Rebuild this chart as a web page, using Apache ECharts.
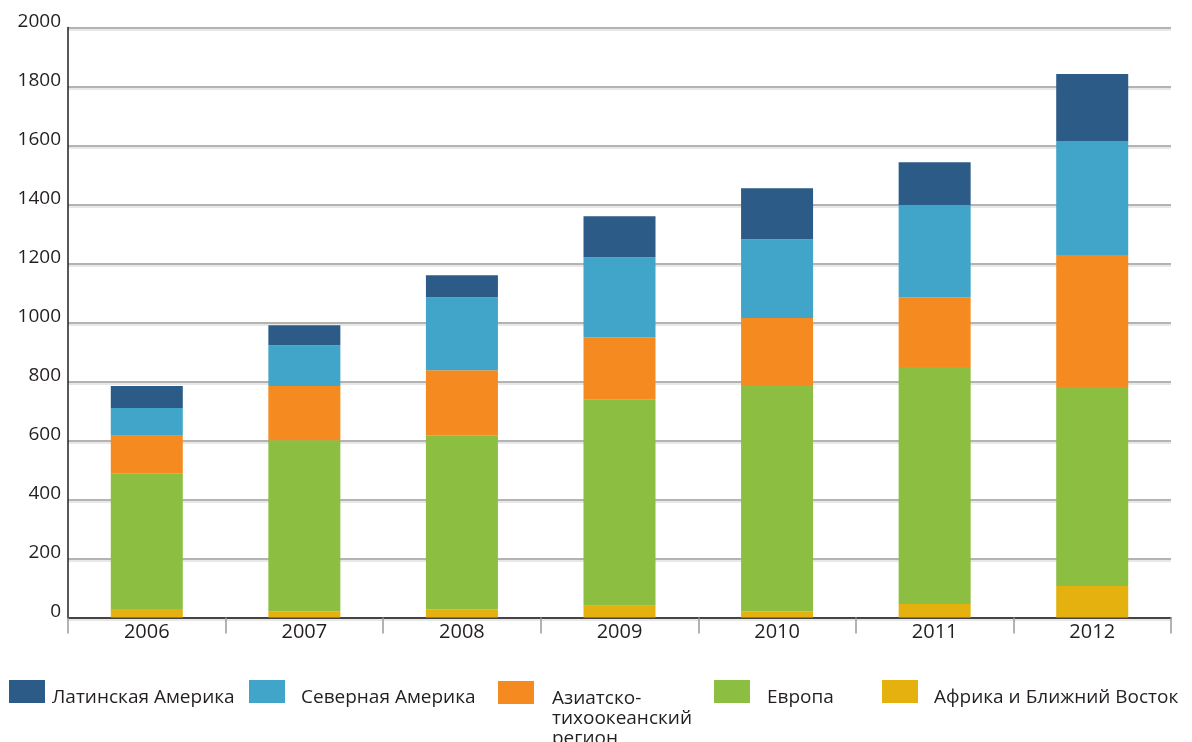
<!DOCTYPE html>
<html>
<head>
<meta charset="utf-8">
<script src="https://cdn.jsdelivr.net/npm/echarts@6/dist/echarts.min.js"></script>
<style>
html,body{margin:0;padding:0;background:#fff;}
#chart{width:1192px;height:742px;}
</style>
</head>
<body>
<div id="chart"></div>
<script>
const years = ['2006','2007','2008','2009','2010','2011','2012'];
const africa   = [29, 21, 28, 40, 21, 46, 107];
const europe   = [458, 580, 588, 698, 767, 803, 674];
const asiaPac  = [129, 184, 222, 212, 227, 237, 448];
const northAm  = [94, 138, 248, 271, 267, 312, 386];
const latinAm  = [75, 68, 74, 139, 173, 145, 227];
const yTicks = [0,200,400,600,800,1000,1200,1400,1600,1800,2000];

const names = {
  la: 'Латинская Америка',
  na: 'Северная Америка',
  ap: 'Азиатско-\nтихоокеанский\nрегион',
  eu: 'Европа',
  af: 'Африка и Ближний Восток'
};
const colors = {la:'#2d5b87', na:'#41a4c9', ap:'#f58b20', eu:'#8bbe41', af:'#e4b10e'};

const FONT = 'Open Sans';
const TXT = '#231f20';

function legendItem(key, left, padLeft) {
  const lines = names[key].split('\n');
  const multi = lines.length > 1;
  const blank = multi ? 52 : 12;
  const blockH = blank + lines.length * 20;
  const top = 681 - (blockH / 2 - 11.5) + (multi ? 21 : 0);
  return {
    left: left, top: top, padding: 0,
    itemWidth: 36, itemHeight: 23,
    icon: 'rect',
    data: [names[key]],
    selectedMode: false,
    formatter: function (n) {
      return '{s| }\n' + n.split('\n').map(function (l) { return '{t|' + l + '}'; }).join('\n');
    },
    textStyle: {
      fontFamily: FONT, fontSize: 19, color: TXT,
      padding: [0, 0, 0, padLeft],
      rich: {
        s: {fontFamily: FONT, fontSize: 10, lineHeight: blank},
        t: {fontFamily: FONT, fontSize: 19, color: TXT, lineHeight: 20}
      }
    }
  };
}

function bar(key, data) {
  return {
    name: names[key], type: 'bar', stack: 'total', barWidth: 72,
    data: data, itemStyle: {color: colors[key]},
    emphasis: {disabled: true}
  };
}

const chart = echarts.init(document.getElementById('chart'), null, {renderer: 'canvas'});
chart.setOption({
  animation: false,
  backgroundColor: '#fff',
  grid: {left: 68, right: 21, top: 27.5, bottom: 124.5, containLabel: false},
  legend: [
    legendItem('la', 9, 2),
    legendItem('na', 249, 11),
    legendItem('ap', 498, 13),
    legendItem('eu', 714, 12),
    legendItem('af', 882, 11)
  ],
  xAxis: {
    type: 'category', data: years,
    axisLine: {show: true, lineStyle: {color: TXT, width: 1.5}},
    axisTick: {show: true, length: 16, lineStyle: {color: '#9a9a9a', width: 1.5}},
    axisLabel: {fontFamily: FONT, fontSize: 20, color: TXT, margin: 5},
    splitLine: {show: false}
  },
  yAxis: {
    type: 'value', min: 0, max: 2000, interval: 200,
    axisLine: {show: true, lineStyle: {color: TXT, width: 1.5}},
    axisTick: {show: false},
    axisLabel: {
      fontFamily: FONT, fontSize: 19, color: TXT, margin: 7,
      verticalAlign: 'bottom', lineHeight: 12,
      formatter: function (v) { return yTicks.indexOf(v) >= 0 ? String(v) : ''; }
    },
    splitLine: {show: true, lineStyle: {color: '#9a9a9a', width: 1.5,
      shadowColor: 'rgba(0,0,0,0.12)', shadowOffsetY: 2, shadowBlur: 0}}
  },
  series: [
    bar('af', africa),
    bar('eu', europe),
    bar('ap', asiaPac),
    bar('na', northAm),
    bar('la', latinAm)
  ]
});
</script>
</body>
</html>
